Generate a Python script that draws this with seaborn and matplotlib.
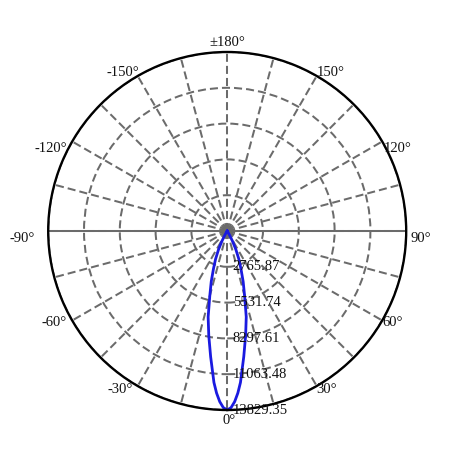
import numpy as np
import matplotlib
matplotlib.use("Agg")
import matplotlib.pyplot as plt
import matplotlib.transforms as mtransforms
import seaborn as sns

# ---- data ----
angles_deg = [-90, -80, -70, -60, -50, -45, -40, -35, -30, -27.5, -25, -22.5, -20,
              -17.5, -15, -12.5, -10, -7.5, -5, -3.75, -2.5, -1.25, 0,
              1.25, 2.5, 3.75, 5, 7.5, 10, 12.5, 15, 17.5, 20, 22.5, 25, 27.5, 30,
              35, 40, 45, 50, 60, 70, 80, 90]
intensity = [0, 0, 0, 5, 10, 15, 30, 80, 350, 900, 1600, 2350, 3100,
             4100, 5200, 6800, 8200, 9800, 11750, 12550, 13200, 13650, 13829.35,
             13650, 13200, 12550, 11750, 9800, 8200, 6800, 5200, 4100, 3100, 2350, 1600, 900, 350,
             80, 30, 15, 10, 5, 0, 0, 0]
ring_values = [2765.87, 5531.74, 8297.61, 11063.48, 13829.35]
ring_labels = ["2765.87", "5531.74", "8297.61", "11063.48", "13829.35"]
angle_labels = ["±180°", "-150°", "150°", "-120°", "120°", "-90°", "90°",
                "-60°", "60°", "-30°", "30°", "0°"]

# ---- layout ----
W = H = 450
fig = plt.figure(figsize=(4.5, 4.5), dpi=100)
plt.rcParams['font.family'] = ['Liberation Serif', 'DejaVu Serif']
cx, cy, R = 227.2, 231.0, 179.0
ax = fig.add_axes([(cx - R) / W, (H - cy - R) / H, 2 * R / W, 2 * R / H],
                  projection='polar')
ax.set_theta_zero_location('S')
ax.set_theta_direction(1)
rmax = ring_values[-1]
ax.set_ylim(0, rmax)

grid_color = '#6b6b6b'
ax.set_rgrids(ring_values, labels=[''] * len(ring_values))
ax.set_thetagrids(np.arange(0, 360, 15), labels=[''] * 24)
ax.grid(True, color=grid_color, linestyle=(0, (4, 2)), linewidth=1.45)
ax.tick_params(length=0)
ax.spines['polar'].set_color('black')
ax.spines['polar'].set_linewidth(1.7)

# solid horizontal axis line
ax.plot([np.pi / 2, np.pi / 2], [0, rmax], color=grid_color, lw=1.45, solid_capstyle='butt')
ax.plot([-np.pi / 2, -np.pi / 2], [0, rmax], color=grid_color, lw=1.45, solid_capstyle='butt')

# curve
theta = np.deg2rad(angles_deg)
sns.lineplot(x=theta, y=intensity, ax=ax, color='#1a1ae0', linewidth=2.0,
             sort=False, estimator=None, legend=False)
ax.set_xlabel('')
ax.set_ylabel('')
ax.set_ylim(0, rmax)

# ring labels
off = mtransforms.offset_copy(ax.transData, fig=fig, x=5.5, y=0, units='dots')
for rv, rl in zip(ring_values, ring_labels):
    ax.text(0, rv, rl, transform=off, ha='left', va='center', fontsize=10.5,
            color='#111111', clip_on=False)

# angle labels (pixel centres)
label_pos = [(227, 42), (123, 72), (331, 72), (50.5, 149), (398, 148),
             (22, 239), (421, 239), (54.5, 322.5), (393, 322),
             (120, 389.5), (327, 389.5), (229.5, 420)]
for txt, (px, py) in zip(angle_labels, label_pos):
    fig.text(px / W, 1 - py / H, txt, ha='center', va='center', fontsize=10.5,
             color='#111111')

fig.savefig('out.png', dpi=100, facecolor='white')
